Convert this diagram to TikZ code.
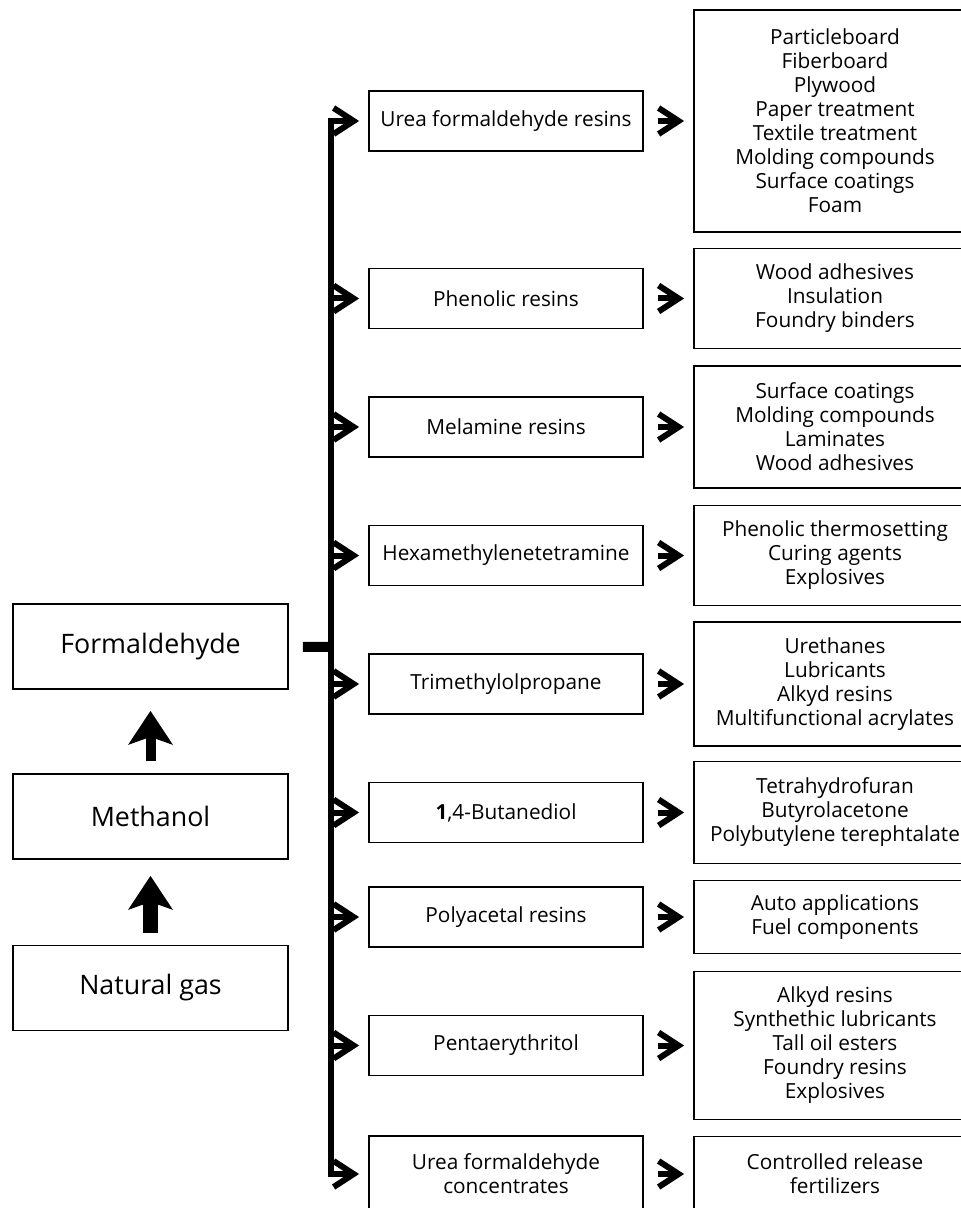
\documentclass[tikz,border=0pt]{standalone}
\usepackage{fontspec}
\setmainfont{Open Sans}
\usepackage{tikz}
\usetikzlibrary{positioning, arrows.meta}

\begin{document}
\begin{tikzpicture}
    [
        x=0.5pt, y=-0.5pt,
        node distance=64.25pt and 164.5pt, on grid,
        source_node/.style={rectangle, draw=black, line width=0.9pt, minimum width=137.5pt, minimum height=42.5pt, font=\fontsize{13.4}{15}\selectfont},
        resin_node/.style={rectangle, draw=black, line width=0.9pt, minimum width=137pt, minimum height=30pt, align=center, font=\fontsize{10.4}{12}\selectfont},
        use_node/.style={rectangle, draw=black, line width=0.9pt, minimum width=141pt, align=center, font=\fontsize{10.4}{12}\selectfont},
        branch/.style={line width=3pt, -{Straight Barb[length=10pt, width=13pt]}},
        fat_arrow/.style={-{Stealth[length=17pt, width=22.5pt, inset=4pt, line width=0pt]}},
    ]
        \useasboundingbox (0,0) rectangle (961,1208);
        \clip (0,0) rectangle (961,1208);
        % raw material chain
        \node[source_node] (formaldehyde) at (150.5,646.5) {Formaldehyde} ;
        \node[source_node] (methanol) [below = 85pt of formaldehyde] {Methanol} ;
        \node[source_node] (natgas) [below = 85.75pt of methanol] {Natural gas} ;
        \draw[fat_arrow, line width=5pt, shorten <=6pt, shorten >=10.5pt] (methanol) to (formaldehyde) ;
        \draw[fat_arrow, line width=7.5pt, shorten <=6pt, shorten >=8pt] (natgas) to (methanol) ;
        % derivatives
        \node[resin_node] (urea) at (506,121) {Urea formaldehyde resins} ;
        \node[resin_node] (phenolic) [below = 88.75pt of urea] {Phenolic resins} ;
        \node[resin_node] (melamine) [below = of phenolic] {Melamine resins} ;
        \node[resin_node] (hexa) [below = of melamine] {Hexamethylenetetramine} ;
        \node[resin_node] (trimethylol) [below = of hexa] {Trimethylolpropane} ;
        \node[resin_node] (butanediol) [below = of trimethylol] {\textbf{1},4-Butanediol} ;
        \node[resin_node] (polyacetal) [below = 52.25pt of butanediol] {Polyacetal resins} ;
        \node[resin_node] (penta) [below = of polyacetal] {Pentaerythritol} ;
        \node[resin_node, minimum height=38pt] (ureaconc) [below = of penta] {Urea formaldehyde\\concentrates} ;
        % end uses
        \node[use_node, minimum height=111pt] (urea_use) [right = of urea] {Particleboard\\Fiberboard\\Plywood\\Paper treatment\\Textile treatment\\Molding compounds\\Surface coatings\\Foam} ;
        \node[use_node, minimum height=50pt] (phenolic_use) [right = of phenolic] {Wood adhesives\\Insulation\\Foundry binders} ;
        \node[use_node, minimum height=61pt] (melamine_use) [right = of melamine] {Surface coatings\\Molding compounds\\Laminates\\Wood adhesives} ;
        \node[use_node, minimum height=50pt] (hexa_use) [right = of hexa] {Phenolic thermosetting\\Curing agents\\Explosives} ;
        \node[use_node, minimum height=62pt] (trimethylol_use) [right = of trimethylol] {Urethanes\\Lubricants\\Alkyd resins\\Multifunctional acrylates} ;
        \node[use_node, minimum height=51pt] (butanediol_use) [right = of butanediol] {Tetrahydrofuran\\Butyrolacetone\\Polybutylene terephtalate} ;
        \node[use_node, minimum height=36.5pt] (polyacetal_use) [right = of polyacetal] {Auto applications\\Fuel components} ;
        \node[use_node, minimum height=74pt] (penta_use) [right = of penta] {Alkyd resins\\Synthethic lubricants\\Tall oil esters\\Foundry resins\\Explosives} ;
        \node[use_node, minimum height=37.5pt] (ureaconc_use) [right = of ureaconc] {Controlled release\\fertilizers} ;
        % tree
        \coordinate (hub) at (331,647) ;
        \draw[line width=5pt, shorten <=7pt] (formaldehyde) to (hub) ;
        \draw[line width=3pt, {Straight Barb[length=10pt, width=13pt]}-{Straight Barb[length=10pt, width=13pt]}, shorten <=4.5pt, shorten >=4.5pt] (urea) -| (hub) |- (ureaconc) ;
        \foreach \n in {phenolic, melamine, hexa, trimethylol, butanediol, polyacetal, penta}
            \draw[branch, shorten >=4.5pt] (hub |- \n) to (\n) ;
        \foreach \n in {urea, phenolic, melamine, hexa, trimethylol, butanediol, polyacetal, penta, ureaconc}
            \draw[branch, shorten <=7pt, shorten >=4.5pt] (\n) to (\n_use) ;
    \end{tikzpicture}
\end{document}
